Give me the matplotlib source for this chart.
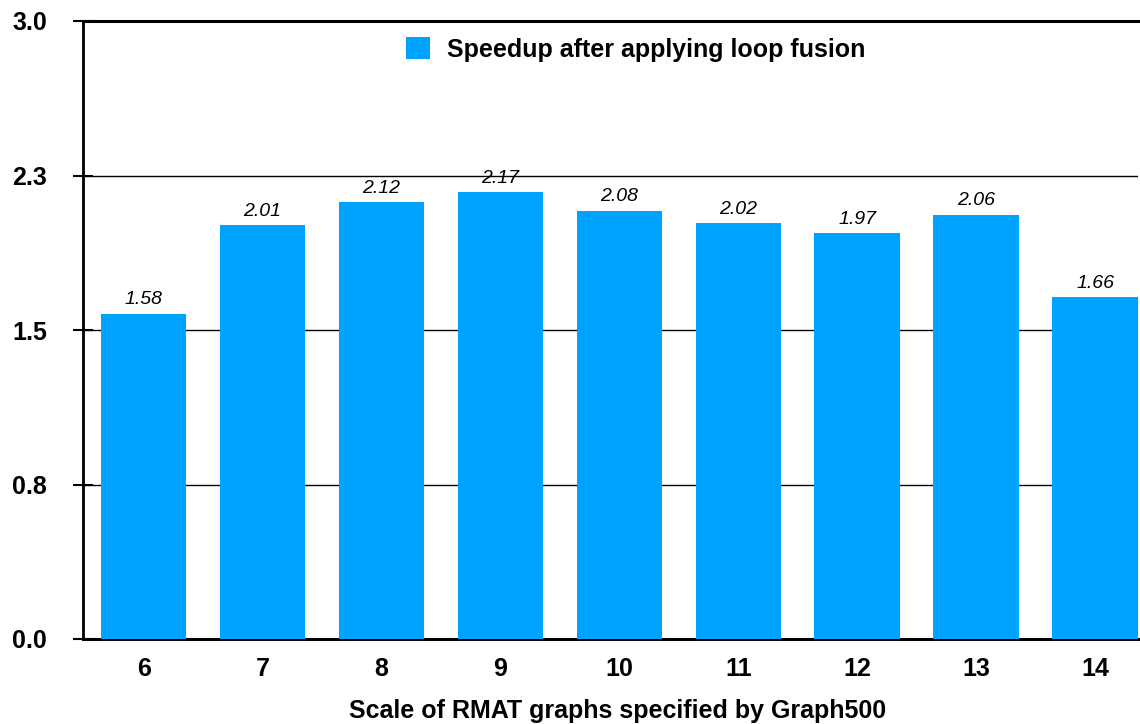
import matplotlib
matplotlib.use('Agg')
import matplotlib.pyplot as plt
from matplotlib.patches import Patch

# data
scales   = ['6', '7', '8', '9', '10', '11', '12', '13', '14']
speedups = [1.58, 2.01, 2.12, 2.17, 2.08, 2.02, 1.97, 2.06, 1.66]
y_ticks  = [0.0, 0.75, 1.5, 2.25, 3.0]
y_labels = ['0.0', '0.8', '1.5', '2.3', '3.0']

BAR_COLOR = '#00A2FF'
FONT = 'Liberation Sans'

fig = plt.figure(figsize=(11.4, 7.24), dpi=100)
ax = fig.add_axes([83/1140, 85/724, (1138-83)/1140, (639-21)/724])

x = list(range(len(scales)))
bars = ax.bar(x, speedups, width=0.72, color=BAR_COLOR, zorder=3)

for xi, v in zip(x, speedups):
    ax.text(xi, v + 0.025, f'{v:.2f}', ha='center', va='bottom',
            fontsize=14, fontstyle='italic', family=FONT, zorder=4)

ax.set_xlim(-0.51, 8.36)
ax.set_ylim(0, 3.0)
ax.set_yticks(y_ticks)
ax.set_yticklabels(y_labels)
ax.set_xticks(x)
ax.set_xticklabels(scales)

# horizontal grid lines
for yv in y_ticks[1:-1]:
    ax.axhline(yv, color='black', lw=1.0, zorder=1)
ax.axhline(3.0, color='black', lw=2.2, zorder=1, clip_on=False)

for side in ['top', 'right']:
    ax.spines[side].set_visible(False)
ax.spines['left'].set_linewidth(2.0)
ax.spines['bottom'].set_linewidth(2.2)

ax.tick_params(axis='y', direction='inout', length=14, width=1.5, pad=19)
ax.tick_params(axis='x', length=0, pad=13)
for lab in ax.get_xticklabels() + ax.get_yticklabels():
    lab.set_fontsize(18)
    lab.set_fontweight('bold')
    lab.set_family(FONT)

ax.set_xlabel('Scale of RMAT graphs specified by Graph500', fontsize=18,
              fontweight='bold', family=FONT)
ax.xaxis.set_label_coords((618 - 83) / (1138 - 83), -72 / 618, transform=ax.transAxes)
ax.xaxis.label.set_va('center')

handle = Patch(facecolor=BAR_COLOR, edgecolor='none')
ax.legend([handle], ['Speedup after applying loop fusion'], loc='upper center',
          bbox_to_anchor=((636-83)/(1138-83), 1.01), frameon=False,
          prop={'family': FONT, 'weight': 'bold', 'size': 18},
          handlelength=0.95, handleheight=0.95, handletextpad=0.7)

fig.savefig('out.png', dpi=100)
